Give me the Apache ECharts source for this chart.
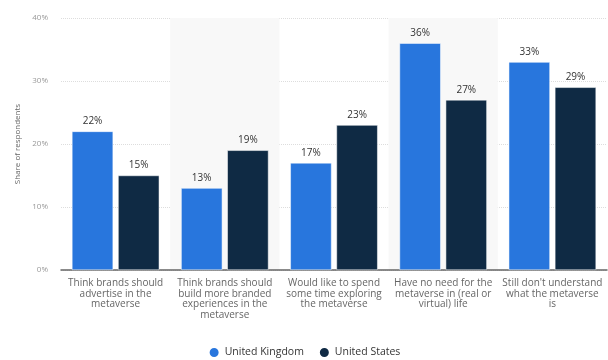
<!DOCTYPE html>
<html>
<head>
<meta charset="utf-8">
<script src="https://cdn.jsdelivr.net/npm/echarts@6/dist/echarts.min.js"></script>
<style>
html,body{margin:0;padding:0;background:#fff;}
#chart{width:608px;height:360px;}
</style>
</head>
<body>
<div id="chart"></div>
<script>
const categories = [
  "Think brands should\nadvertise in the\nmetaverse",
  "Think brands should\nbuild more branded\nexperiences in the\nmetaverse",
  "Would like to spend\nsome time exploring\nthe metaverse",
  "Have no need for the\nmetaverse in (real or\nvirtual) life",
  "Still don't understand\nwhat the metaverse\nis"
];
const ukValues = [22, 13, 17, 36, 33];
const usValues = [15, 19, 23, 27, 29];
const yTicks = [0, 10, 20, 30, 40];

const chart = echarts.init(document.getElementById('chart'));
const labelCfg = {
  show: true, position: 'top', distance: 5,
  formatter: '{c}%', fontSize: 10, color: '#333', fontFamily: 'Open Sans'
};
chart.setOption({
  animation: false,
  textStyle: { fontFamily: 'Open Sans' },
  grid: { left: 61, right: 1, top: 18, bottom: 90 },
  legend: {
    top: 346, left: 'center', padding: 0, icon: 'circle', itemWidth: 11, itemHeight: 11,
    itemGap: 14, textStyle: { fontSize: 10.5, color: '#333' },
    data: ['United Kingdom', 'United States']
  },
  xAxis: {
    type: 'category', data: categories,
    axisLine: { lineStyle: { color: '#666', width: 1.5 } },
    axisTick: { show: false },
    axisLabel: { fontSize: 10, color: '#666', lineHeight: 10.5, margin: 8, interval: 0 },
    splitArea: { show: true, areaStyle: { color: ['rgba(0,0,0,0)', '#f8f8f8'] } }
  },
  yAxis: {
    type: 'value', min: yTicks[0], max: yTicks[yTicks.length - 1], interval: 10,
    name: 'Share of respondents', nameLocation: 'middle', nameGap: 38,
    nameTextStyle: { fontSize: 8, color: '#666' },
    axisLine: { show: false }, axisTick: { show: false },
    axisLabel: { formatter: '{value}%', fontSize: 8, color: '#999', margin: 13 },
    splitLine: { lineStyle: { color: '#ddd', type: 'dotted' } }
  },
  series: [
    { name: 'United Kingdom', type: 'bar', data: ukValues, barGap: '12%', barCategoryGap: '20%',
      itemStyle: { color: '#2876dd', borderColor: '#fff', borderWidth: 0.5 }, label: labelCfg },
    { name: 'United States', type: 'bar', data: usValues,
      itemStyle: { color: '#0f2a44', borderColor: '#fff', borderWidth: 0.5 }, label: labelCfg }
  ]
});
</script>
</body>
</html>
